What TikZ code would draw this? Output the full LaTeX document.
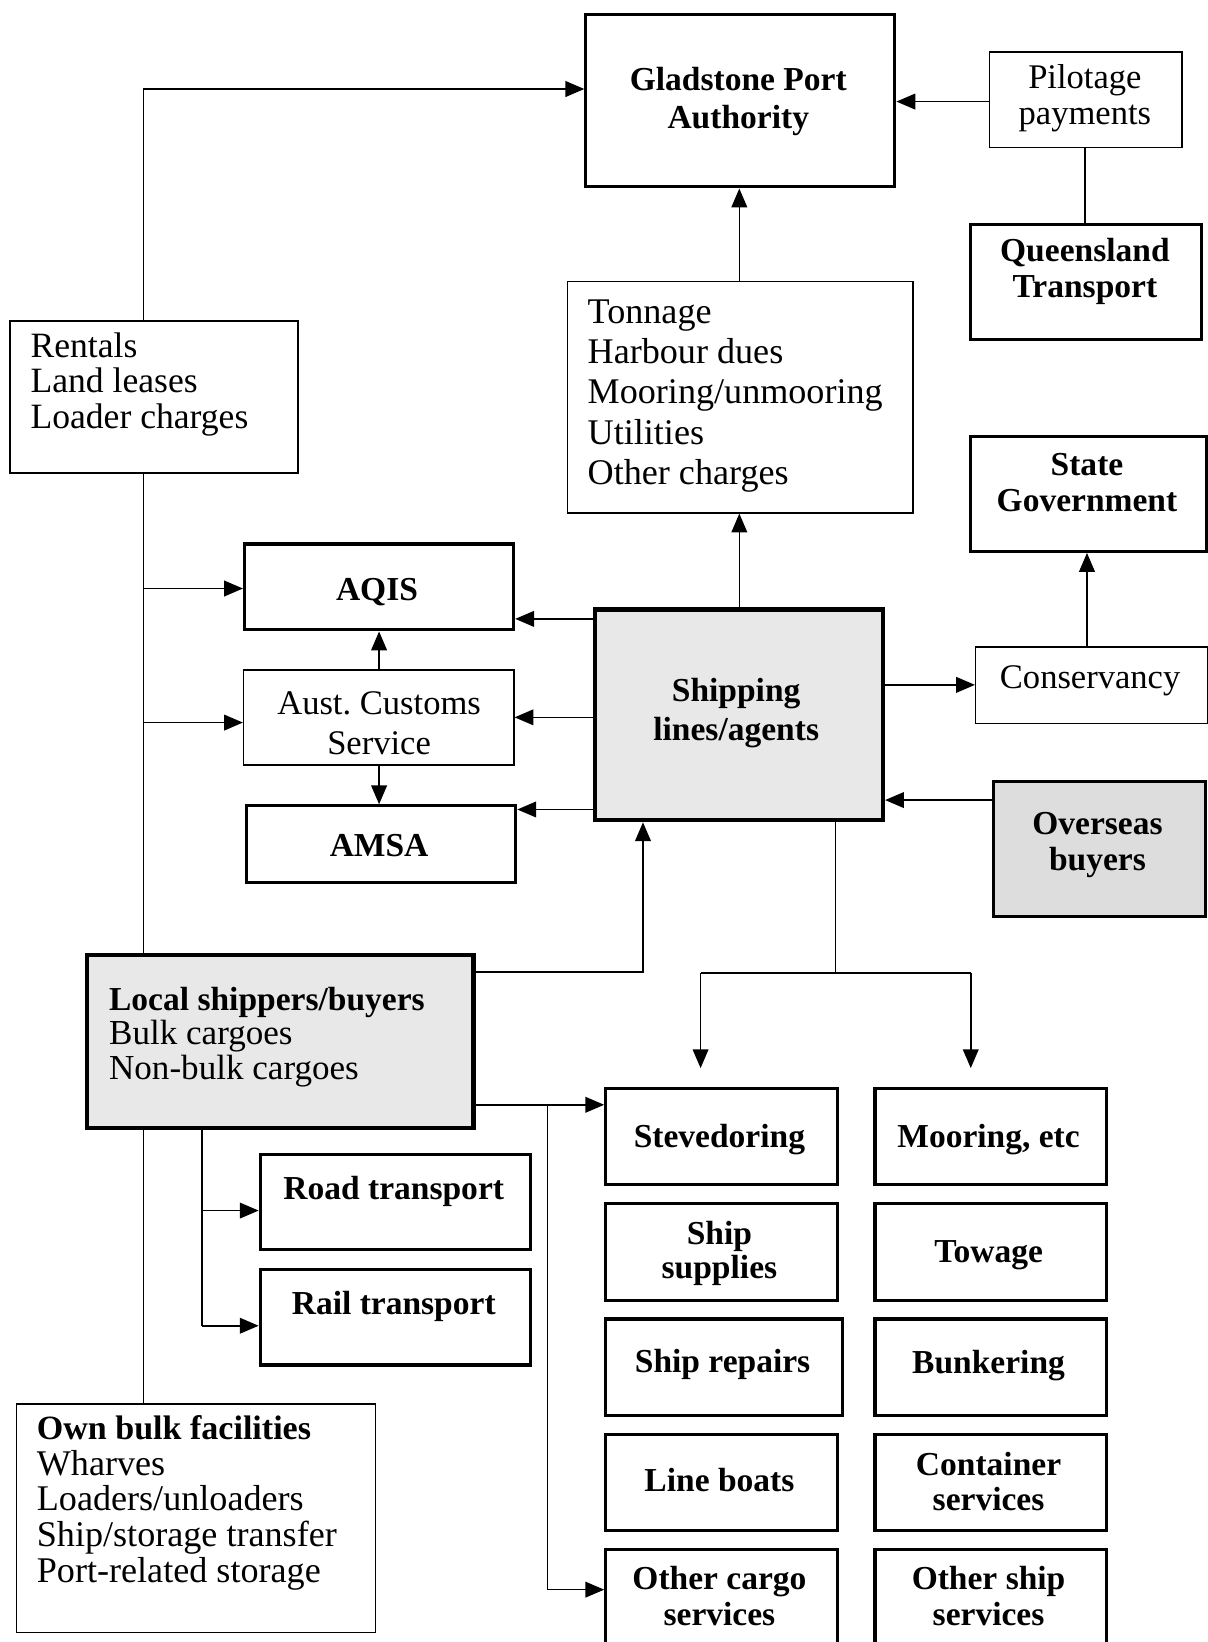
\documentclass[tikz,border=0pt]{standalone}
\usepackage{fontspec}
\setmainfont{Liberation Serif}
\usetikzlibrary{arrows.meta}
\definecolor{boxgray}{HTML}{E8E8E8}
\definecolor{boxgrayb}{HTML}{DDDDDD}
\tikzset{
  box/.style={draw, anchor=north west, inner sep=0pt},
  thinbox/.style={box, line width=1.4pt},
  thickbox/.style={box, line width=3pt},
  heavybox/.style={box, line width=4.2pt},
  rg/.style={inner sep=0pt, yshift=-3pt, font=\fontsize{33}{34}\selectfont},
  bd/.style={inner sep=0pt, yshift=-3pt, font=\bfseries\fontsize{32}{34}\selectfont},
  conn/.style={line width=1.5pt},
  arr/.style={conn, -{Triangle[length=18pt,width=15pt]}},
}
\begin{document}
\begin{tikzpicture}[x=1pt,y=-1pt]
\useasboundingbox (0,0) rectangle (1153,1568);
% boxes
\node[thickbox, minimum width=295, minimum height=165] (gpa) at (558,12) {};
\node[thinbox, minimum width=184, minimum height=91] (pil) at (944,49) {};
\node[thickbox, minimum width=221, minimum height=110] (qt) at (925,213) {};
\node[thinbox, minimum width=330, minimum height=221] (ton) at (541,268) {};
\node[thinbox, minimum width=275, minimum height=145] (rent) at (9,306) {};
\node[thickbox, minimum width=226, minimum height=110] (sg) at (925,415) {};
\node[thickbox, minimum width=257, minimum height=82] (aqis) at (232,518) {};
\node[thinbox, minimum width=258, minimum height=91] (acs) at (232,639) {};
\node[thickbox, minimum width=257, minimum height=73] (amsa) at (234,768) {};
\node[heavybox, fill=boxgray, minimum width=275, minimum height=201] (ship) at (566,580) {};
\node[thinbox, minimum width=222, minimum height=73] (cons) at (931,617) {};
\node[thickbox, fill=boxgrayb, minimum width=203, minimum height=129] (over) at (947,745) {};
\node[heavybox, fill=boxgray, minimum width=369, minimum height=165] (local) at (81,910) {};
\node[thickbox, minimum width=258, minimum height=91] (road) at (247,1101) {};
\node[thickbox, minimum width=258, minimum height=91] (rail) at (247,1211) {};
\node[thinbox, minimum width=343, minimum height=218] (own) at (15,1340) {};
\node[thickbox, minimum width=221, minimum height=92] (stev) at (577,1038) {};
\node[thickbox, minimum width=221, minimum height=92] (moor) at (834,1038) {};
\node[thickbox, minimum width=221, minimum height=92] (ssup) at (577,1148) {};
\node[thickbox, minimum width=221, minimum height=92] (tow) at (834,1148) {};
\node[thickbox, minimum width=226, minimum height=92] (srep) at (577,1258) {};
\node[thickbox, minimum width=221, minimum height=92] (bunk) at (834,1258) {};
\node[thickbox, minimum width=221, minimum height=92] (lineb) at (577,1368) {};
\node[thickbox, minimum width=221, minimum height=92] (cont) at (834,1368) {};
\node[thickbox, minimum width=221, minimum height=110] (ocar) at (577,1478) {};
\node[thickbox, minimum width=221, minimum height=110] (oshp) at (834,1478) {};
% texts
\node[bd, align=center, font=\bfseries\fontsize{32}{37}\selectfont] (gpaT) at (705,94) {Gladstone Port\\Authority};
\node[rg, align=center] (pilT) at (1036,91) {Pilotage\\payments};
\node[bd, align=center] (qtT) at (1036,256) {Queensland\\Transport};
\node[rg, align=left, anchor=west, font=\fontsize{34.5}{38.5}\selectfont] (tonT) at (561,375) {Tonnage\\Harbour dues\\Mooring/unmooring\\Utilities\\Other charges};
\node[rg, align=left, anchor=west, font=\fontsize{34}{34}\selectfont] (rentT) at (29,364) {Rentals\\Land leases\\Loader charges};
\node[bd, align=center] (sgT) at (1038,458) {State\\Government};
\node[bd] (aqisT) at (360,562) {AQIS};
\node[rg, align=center, font=\fontsize{33}{38}\selectfont] (acsT) at (362,688) {Aust.\ Customs\\Service};
\node[bd] (amsaT) at (362,804) {AMSA};
\node[bd, align=center, font=\bfseries\fontsize{32}{38}\selectfont] (shipT) at (703,678) {Shipping\\lines/agents};
\node[rg] (consT) at (1041,647) {Conservancy};
\node[bd, align=center] (overT) at (1048,804) {Overseas\\buyers};
\node[rg, align=left, anchor=west, font=\fontsize{33.5}{33}\selectfont] (localT) at (104,987) {{\fontsize{32}{33}\selectfont\bfseries Local shippers/buyers}\\Bulk cargoes\\Non-bulk cargoes};
\node[bd] (roadT) at (376,1135) {Road transport};
\node[bd] (railT) at (376,1245) {Rail transport};
\node[rg, align=left, anchor=west, font=\fontsize{34.5}{34}\selectfont] (ownT) at (35,1432) {{\fontsize{32.5}{34}\selectfont\bfseries Own bulk facilities}\\Wharves\\Loaders/unloaders\\Ship/storage transfer\\Port-related storage};
\node[bd] (stevT) at (687,1085) {Stevedoring};
\node[bd] (moorT) at (944,1085) {Mooring, etc};
\node[bd, align=center, font=\bfseries\fontsize{32}{33}\selectfont] (ssupT) at (687,1194) {Ship\\supplies};
\node[bd] (towT) at (944,1196) {Towage};
\node[bd] (srepT) at (690,1300) {Ship repairs};
\node[bd] (bunkT) at (944,1301) {Bunkering};
\node[bd] (linebT) at (687,1410) {Line boats};
\node[bd, align=center, font=\bfseries\fontsize{32}{33}\selectfont] (contT) at (944,1412) {Container\\services};
\node[bd, align=center] (ocarT) at (687,1521) {Other cargo\\services};
\node[bd, align=center] (oshpT) at (944,1521) {Other ship\\services};
% helper coordinates
\coordinate (sp) at (137,85);
\coordinate (lx) at (193,1156);
\coordinate (ly) at (193,1266);
\coordinate (up) at (614,928);
\coordinate (dn) at (798,929);
\coordinate (dl) at (669,929);
\coordinate (dr) at (927,929);
\coordinate (dle) at (669,1020);
\coordinate (dre) at (927,1020);
\coordinate (br) at (523,1055);
\coordinate (bre) at (523,1518);
% connectors
\draw[arr] (rent.north -| sp) |- (gpa.west |- sp);
\draw[arr] (pil.west |- 0,97) -- (gpa.east |- 0,97);
\draw[conn] (pil.south -| 1036,0) -- (qt.north -| 1036,0);
\draw[arr] (ton.north -| 706,0) -- (gpa.south -| 706,0);
\draw[arr] (ship.north -| 706,0) -- (ton.south -| 706,0);
\draw[arr] (cons.north -| 1038,0) -- (sg.south -| 1038,0);
\draw[arr] (ship.east |- 0,654) -- (cons.west |- 0,654);
\draw[arr] (over.west |- 0,764) -- (ship.east |- 0,764);
\draw[arr] (ship.west |- 0,591) -- (aqis.east |- 0,591);
\draw[arr] (ship.west |- 0,685) -- (acs.east |- 0,685);
\draw[arr] (ship.west |- 0,773) -- (amsa.east |- 0,773);
\draw[arr] (acs.north -| 362,0) -- (aqis.south -| 362,0);
\draw[arr] (acs.south -| 362,0) -- (amsa.north -| 362,0);
\draw[conn] (rent.south -| sp) -- (local.north -| sp);
\draw[arr] (137,562) -- (aqis.west |- 0,562);
\draw[arr] (137,690) -- (acs.west |- 0,690);
\draw[conn] (local.south -| sp) -- (own.north -| sp);
\draw[arr] (local.east |- up) -| (ship.south -| up);
\draw[conn] (ship.south -| dn) -- (dn);
\draw[conn] (dl) -- (dr);
\draw[arr] (dl) -- (dle);
\draw[arr] (dr) -- (dre);
\draw[arr] (local.east |- br) -- (stev.west |- br);
\draw[arr] (br) |- (ocar.west |- bre);
\draw[conn] (local.south -| lx) -- (ly);
\draw[arr] (lx) -- (road.west |- lx);
\draw[arr] (ly) -- (rail.west |- ly);
\end{tikzpicture}
\end{document}
